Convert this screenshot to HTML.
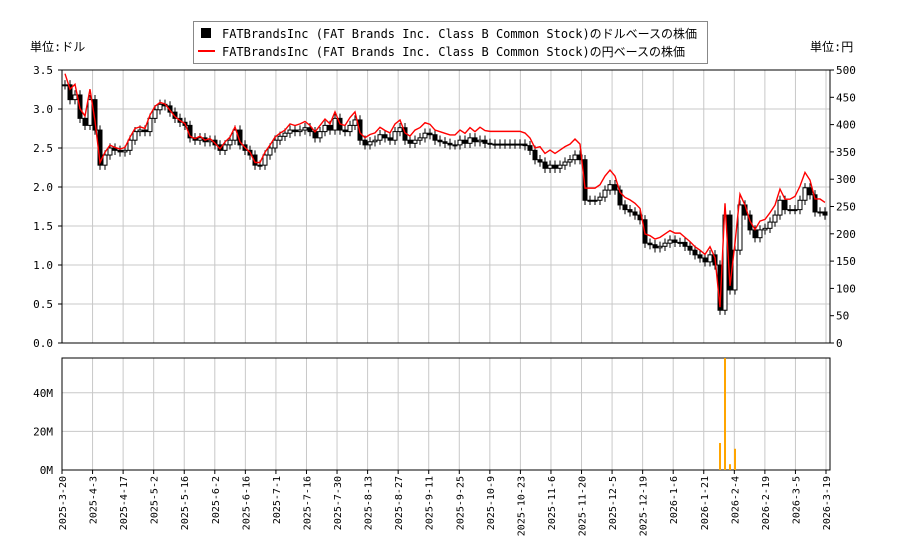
<!DOCTYPE html>
<html><head><meta charset="utf-8"><style>
body{margin:0;background:#fff;}
svg text{font-family:"DejaVu Sans Mono","Liberation Mono","Noto Sans CJK JP",monospace;}
</style></head><body>
<svg id="c" width="900" height="550" xmlns="http://www.w3.org/2000/svg"></svg>
<script>
const closes=[3.31,3.12,3.18,2.88,2.79,3.12,2.73,2.28,2.41,2.50,2.47,2.45,2.47,2.60,2.71,2.73,2.71,2.88,2.99,3.06,3.04,2.96,2.88,2.83,2.79,2.63,2.60,2.63,2.58,2.60,2.54,2.47,2.54,2.60,2.73,2.54,2.47,2.41,2.28,2.28,2.41,2.50,2.60,2.65,2.69,2.73,2.71,2.73,2.76,2.71,2.63,2.71,2.79,2.73,2.88,2.73,2.71,2.79,2.86,2.60,2.54,2.58,2.60,2.67,2.63,2.60,2.71,2.76,2.60,2.56,2.60,2.63,2.69,2.67,2.60,2.58,2.56,2.54,2.54,2.60,2.56,2.63,2.58,2.60,2.56,2.55,2.55,2.55,2.55,2.55,2.55,2.55,2.53,2.47,2.35,2.32,2.24,2.28,2.24,2.28,2.32,2.35,2.41,2.35,1.83,1.83,1.83,1.87,1.96,2.03,1.96,1.77,1.71,1.68,1.64,1.58,1.28,1.26,1.22,1.24,1.28,1.32,1.29,1.29,1.24,1.19,1.13,1.09,1.04,1.13,1.00,0.42,1.64,0.68,1.19,1.77,1.64,1.45,1.35,1.45,1.47,1.55,1.64,1.83,1.71,1.71,1.71,1.83,1.99,1.90,1.68,1.68,1.64];
const fxMonthly=[149,145,144,145,147,148,150,152,155,156,156,154,157];
const volSpikes=[[131,14],[132,58],[133,3],[134,11]];
const leftTicks=[0,0.5,1,1.5,2,2.5,3,3.5];
const rightTicks=[0,50,100,150,200,250,300,350,400,450,500];
const volTicks=[0,20,40];
const dateLabels=["2025-3-20","2025-4-3","2025-4-17","2025-5-2","2025-5-16","2025-6-2","2025-6-16","2025-7-1","2025-7-16","2025-7-30","2025-8-13","2025-8-27","2025-9-11","2025-9-25","2025-10-9","2025-10-23","2025-11-6","2025-11-20","2025-12-5","2025-12-19","2026-1-6","2026-1-21","2026-2-4","2026-2-19","2026-3-5","2026-3-19"];

const svg=document.getElementById('c');const NS='http://www.w3.org/2000/svg';
function el(t,a,p){const e=document.createElementNS(NS,t);for(const k in a)e.setAttribute(k,a[k]);(p||svg).appendChild(e);return e;}
const L=62,R=830,T=70,B=343,VT=358,VB=470;
const yP=v=>B-v/3.5*(B-T);
const yY=v=>B-v/500*(B-T);
const yV=v=>Math.max(VT,VB-v*1.93);
const n=closes.length;
const xI=i=>65+i*(760/(n-1));
const xD=k=>62+k*(764/(dateLabels.length-1));
const g=el('g',{});

leftTicks.forEach(v=>el('line',{x1:L,x2:R,y1:yP(v),y2:yP(v),stroke:'#c8c8c8'},g));
dateLabels.forEach((d,k)=>{el('line',{x1:xD(k),x2:xD(k),y1:T,y2:B,stroke:'#c8c8c8'},g);el('line',{x1:xD(k),x2:xD(k),y1:VT,y2:VB,stroke:'#c8c8c8'},g);});
volTicks.forEach(v=>el('line',{x1:L,x2:R,y1:VB-v*1.93,y2:VB-v*1.93,stroke:'#c8c8c8'},g));
el('rect',{x:L,y:T,width:R-L,height:B-T,fill:'none',stroke:'#000'});
el('rect',{x:L,y:VT,width:R-L,height:VB-VT,fill:'none',stroke:'#000'});
leftTicks.forEach(v=>{el('line',{x1:L-4,x2:L,y1:yP(v),y2:yP(v),stroke:'#000'});
const t=el('text',{x:53,y:yP(v)+4,'font-size':11,'text-anchor':'end'});t.textContent=v.toFixed(1);
});
rightTicks.forEach(v=>{el('line',{x1:R,x2:R+4,y1:yY(v),y2:yY(v),stroke:'#000'});
const t=el('text',{x:836,y:yY(v)+4,'font-size':11});t.textContent=v;
});
volTicks.forEach(v=>{const t=el('text',{x:53,y:VB-v*1.93+4,'font-size':11,'text-anchor':'end'});t.textContent=v+'M';
});
dateLabels.forEach((d,k)=>{el('line',{x1:xD(k),x2:xD(k),y1:VB,y2:VB+4,stroke:'#000'});
const t=el('text',{transform:`translate(${xD(k)+4},${VB+6}) rotate(-90)`,'font-size':10,'text-anchor':'end'});t.textContent=d;
});
const cg=el('g',{});
closes.forEach((c,i)=>{const o=i?closes[i-1]:c;const hi=Math.max(o,c)+0.06,lo=Math.min(o,c)-0.06;
const x=xI(i);el('line',{x1:x,x2:x,y1:yP(hi),y2:yP(lo),stroke:'#000'},cg);
const top=yP(Math.max(o,c)),h=Math.max(1,yP(Math.min(o,c))-top);
const r=el('rect',{x:x-2,y:top,width:4,height:h,fill:c<o?'#000':'#fff',stroke:'#000','stroke-width':1},cg);
});
const pts=closes.map((c,i)=>{const fx=fxMonthly[Math.min(fxMonthly.length-1,Math.floor(i*(fxMonthly.length-1)/(n-1)+0.5))];return xI(i)+','+yY(c*fx);}).join(' ');
const pl=el('polyline',{points:pts,fill:'none',stroke:'#f00','stroke-width':1.4});

volSpikes.forEach(([i,v])=>{const r=el('rect',{x:xI(i)-1,y:yV(v),width:2,height:VB-yV(v),fill:'#ffa500'});
});
let t=el('text',{x:30,y:51,'font-size':12});t.textContent='単位:ドル';
t=el('text',{x:810,y:51,'font-size':12});t.textContent='単位:円';
const lg=el('g',{});
el('rect',{x:193.5,y:21.5,width:514,height:42,fill:'#fff',stroke:'#888'},lg);
el('rect',{x:201,y:28,width:10,height:10,fill:'#000'},lg);
el('line',{x1:198,x2:215,y1:51,y2:51,stroke:'#f00','stroke-width':2},lg);
t=el('text',{x:222,y:38,'font-size':12,textLength:475},lg);t.textContent='FATBrandsInc (FAT Brands Inc. Class B Common Stock)のドルベースの株価';

t=el('text',{x:222,y:56,'font-size':12,textLength:463},lg);t.textContent='FATBrandsInc (FAT Brands Inc. Class B Common Stock)の円ベースの株価';

</script>
</body></html>
